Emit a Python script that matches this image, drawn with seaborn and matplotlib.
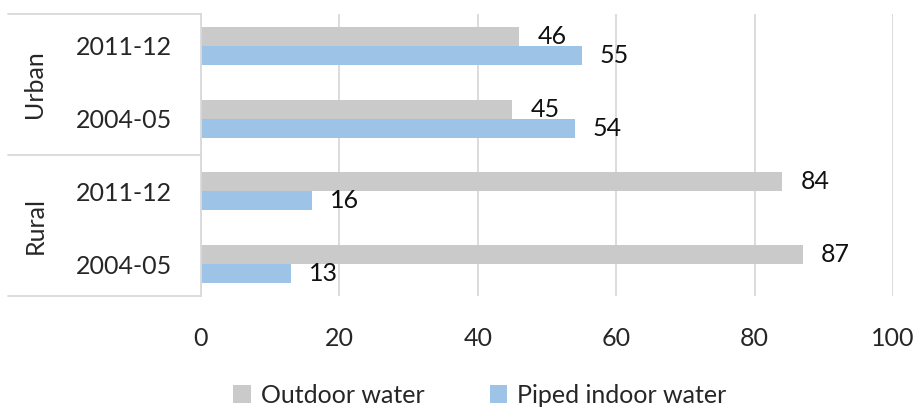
import pandas as pd
import matplotlib.pyplot as plt
import seaborn as sns

# values, top row first
areas = ['Urban', 'Urban', 'Rural', 'Rural']
years = ['2011-12', '2004-05', '2011-12', '2004-05']
outdoor = [46, 45, 84, 87]
piped = [55, 54, 16, 13]
series = ['Outdoor water', 'Piped indoor water']
colors = ['#C9CAC9', '#9DC3E6']
xticks = [0, 20, 40, 60, 80, 100]

rows = [a + ' ' + y for a, y in zip(areas, years)]
df = pd.DataFrame({
    'row': rows * 2,
    'value': outdoor + piped,
    'type': [series[0]] * 4 + [series[1]] * 4,
})

sns.set_style('white')
plt.rcParams['font.family'] = ['Lato', 'DejaVu Sans']

fig = plt.figure(figsize=(9.14, 4.09), dpi=100)
ax = fig.add_axes([0.2199, 0.2763, 0.7572, 0.6895])

sns.barplot(data=df, y='row', x='value', hue='type', order=rows,
            palette=colors, saturation=1, width=0.52, orient='h', ax=ax,
            legend=True, edgecolor='none')

for c in ax.containers:
    ax.bar_label(c, padding=13, fontsize=18, color='#111111')

ax.set_xlim(0, 100)
ax.set_xticks(xticks)
ax.set_xticklabels([str(t) for t in xticks], fontsize=18)
ax.set_yticklabels(years, fontsize=18)
ax.set_xlabel('')
ax.set_ylabel('')
ax.tick_params(axis='x', length=0, pad=22)
ax.tick_params(axis='y', length=0, pad=21)
ax.grid(axis='x', color='#D9D9D9', linewidth=1.3)
ax.set_axisbelow(True)
for s in ['top', 'right', 'bottom']:
    ax.spines[s].set_visible(False)
ax.spines['left'].set_color('#D9D9D9')
ax.spines['left'].set_linewidth(1.3)

# grouped category box on the left
for yy in [0, 0.5, 1]:
    ax.plot([-0.279, 0], [yy, yy], transform=ax.transAxes, color='#D9D9D9',
            linewidth=1.3, clip_on=False)
ax.text(-0.24, 0.75, 'Urban', transform=ax.transAxes, rotation=90,
        ha='center', va='center', fontsize=18)
ax.text(-0.24, 0.25, 'Rural', transform=ax.transAxes, rotation=90,
        ha='center', va='center', fontsize=18)

handles, labels = ax.get_legend_handles_labels()
ax.get_legend().remove()
fig.legend(handles, labels, loc='lower center', bbox_to_anchor=(0.525, -0.05),
           ncol=2, frameon=False, fontsize=18, handlelength=0.7,
           handleheight=0.7, handletextpad=0.4, columnspacing=2.6)

fig.savefig('out.png', dpi=100)
